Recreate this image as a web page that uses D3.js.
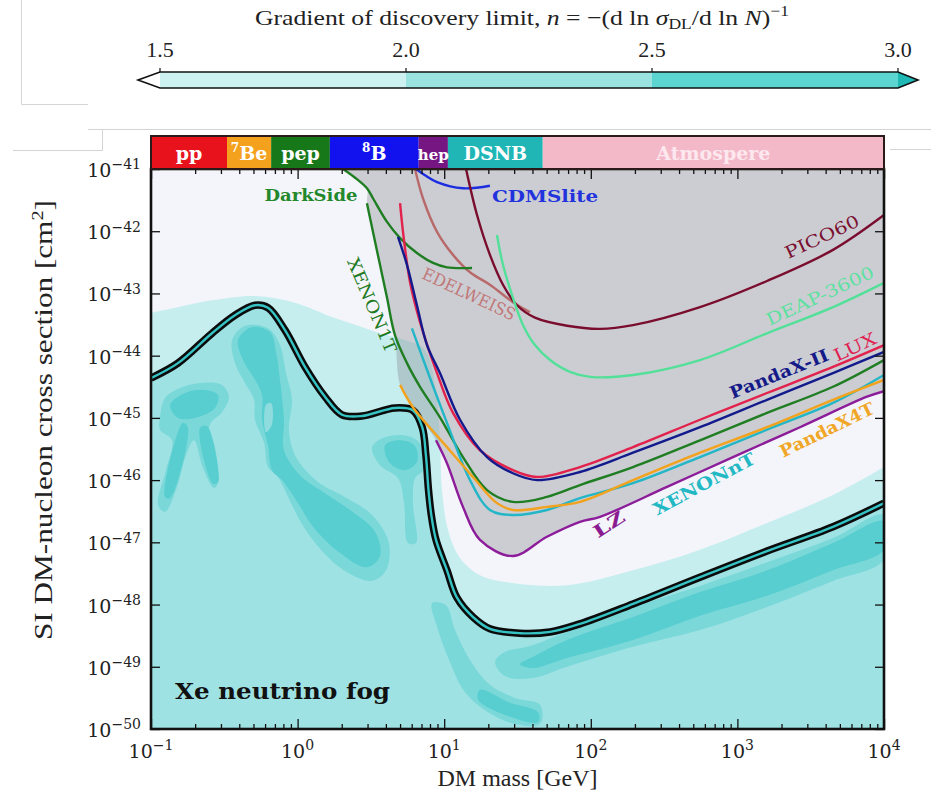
<!DOCTYPE html>
<html>
<head>
<meta charset="utf-8">
<script src="https://cdn.jsdelivr.net/npm/d3@7"></script>
<style>
  body { margin: 0; background: #fff; }
  svg { display: block; }
</style>
</head>
<body>
<svg id="chart"></svg>
<script>
// every curve point is [log10(mass / GeV), log10(sigma / cm^2)]

// n = 2 contour (the thick "floor" line)
const floorLine = [[-1.000,-44.36],[-0.816,-44.12],[-0.584,-43.64],[-0.427,-43.35],[-0.291,-43.19],[-0.202,-43.23],
  [-0.086,-43.59],[0.050,-44.18],[0.187,-44.66],[0.303,-44.95],[0.439,-44.97],[0.664,-44.84],[0.787,-44.88],
  [0.850,-45.15],[0.875,-45.60],[0.893,-46.16],[0.912,-46.56],[0.944,-46.96],[1.019,-47.45],[1.087,-47.89],
  [1.196,-48.20],[1.312,-48.39],[1.517,-48.46],[1.722,-48.44],[1.926,-48.31],[2.288,-47.99],[2.745,-47.56],
  [3.202,-47.14],[3.652,-46.75],[4.000,-46.37]];

// upper edge of the n > 1.5 region
const fogEdge = [[-1.000,-43.31],[-0.816,-43.22],[-0.584,-43.11],[-0.291,-43.04],[-0.018,-43.15],[0.235,-43.38],
  [0.439,-43.54],[0.562,-43.64],[0.733,-43.75],[0.869,-43.91],[0.951,-44.71],[0.971,-45.36],[0.985,-46.16],
  [1.026,-46.80],[1.108,-47.25],[1.244,-47.53],[1.449,-47.65],[1.838,-47.69],[2.288,-47.45],[2.745,-47.12],
  [3.202,-46.69],[3.652,-46.24],[4.000,-45.79]];

// n > 2.5 patches
const darkA = [[-0.939,-44.99],[-0.904,-44.68],[-0.802,-44.52],[-0.666,-44.44],[-0.516,-44.47],[-0.468,-44.66],
  [-0.516,-44.91],[-0.598,-45.11],[-0.584,-45.52],[-0.536,-46.00],[-0.570,-46.13],[-0.645,-45.81],[-0.707,-45.36],
  [-0.761,-45.60],[-0.829,-46.16],[-0.904,-46.51],[-0.952,-46.40],[-0.898,-45.84],[-0.857,-45.36],[-0.939,-45.19]];
const darkB = [[-0.447,-43.75],[-0.359,-43.52],[-0.202,-43.56],[-0.120,-43.83],[-0.079,-44.28],[-0.038,-44.71],
  [-0.059,-45.19],[-0.011,-45.63],[0.139,-46.03],[0.323,-46.27],[0.508,-46.56],[0.623,-47.01],[0.603,-47.45],
  [0.508,-47.62],[0.323,-47.46],[0.166,-47.14],[0.030,-46.71],[-0.065,-46.27],[-0.134,-45.95],[-0.202,-45.79],
  [-0.229,-45.40],[-0.291,-45.03],[-0.297,-44.71],[-0.359,-44.44],[-0.427,-44.12]];
const darkC = [[0.508,-45.47],[0.596,-45.31],[0.753,-45.29],[0.849,-45.45],[0.855,-45.84],[0.801,-45.97],
  [0.787,-46.37],[0.808,-47.01],[0.753,-47.01],[0.726,-46.37],[0.685,-45.97],[0.562,-45.76]];
const darkTongue = [[0.917,-47.98],[1.012,-48.01],[1.074,-48.41],[1.176,-48.89],[1.312,-49.29],[1.483,-49.50],
  [1.654,-49.61],[1.654,-49.92],[1.483,-49.92],[1.299,-49.73],[1.142,-49.41],[1.033,-48.89],[0.958,-48.41]];
const darkBand = [[4.000,-46.56],[3.652,-46.93],[3.202,-47.32],[2.745,-47.70],[2.288,-48.04],[1.838,-48.44],
  [1.565,-48.68],[1.415,-48.76],[1.347,-48.92],[1.415,-49.15],[1.606,-49.18],[1.838,-49.00],[2.288,-48.68],
  [2.745,-48.41],[3.202,-48.04],[3.652,-47.62],[4.000,-47.28]];

// n > 3 cores
const coreA = [[-0.870,-44.79],[-0.768,-44.60],[-0.632,-44.55],[-0.543,-44.63],[-0.563,-44.84],[-0.700,-45.00],[-0.816,-45.00]];
const coreStem1 = [[-0.666,-45.16],[-0.618,-45.13],[-0.543,-46.03],[-0.577,-46.06]];
const coreStem2 = [[-0.782,-45.08],[-0.748,-45.16],[-0.870,-46.29],[-0.904,-46.27]];
const coreB = [[-0.407,-43.75],[-0.311,-43.54],[-0.188,-43.62],[-0.147,-43.94],[-0.120,-44.39],[-0.093,-45.03],
  [-0.093,-45.52],[0.016,-45.92],[0.153,-46.16],[0.357,-46.48],[0.528,-46.83],[0.562,-47.22],[0.473,-47.40],
  [0.289,-47.17],[0.112,-46.77],[-0.011,-46.32],[-0.106,-46.00],[-0.175,-45.84],[-0.202,-45.44],[-0.243,-45.03],
  [-0.243,-44.63],[-0.297,-44.36],[-0.366,-44.10]];
const coreC = [[0.596,-45.44],[0.699,-45.36],[0.801,-45.45],[0.814,-45.71],[0.733,-45.84],[0.630,-45.73]];
const coreTongue = [[1.244,-49.37],[1.449,-49.58],[1.640,-49.73],[1.640,-49.89],[1.435,-49.79],[1.231,-49.53]];
const coreBand = [[4.000,-46.66],[3.652,-47.01],[3.202,-47.45],[2.745,-47.80],[2.288,-48.20],[1.838,-48.57],
  [1.606,-48.84],[1.517,-48.96],[1.606,-49.02],[1.838,-48.86],[2.288,-48.57],[2.745,-48.18],[3.202,-47.86],
  [3.652,-47.45],[4.000,-47.12]];
const eyeB = [[-0.216,-44.79],[-0.181,-44.76],[-0.175,-45.11],[-0.216,-45.23]];

// experimental exclusion limits
const darkSide = [[0.310,-41.00],[0.392,-41.14],[0.473,-41.31],[0.514,-41.47],[0.610,-41.85],[0.699,-42.11],
  [0.814,-42.35],[0.924,-42.51],[1.019,-42.58],[1.190,-42.59]];
const xenon1T = [[0.473,-41.55],[0.514,-42.01],[0.562,-42.54],[0.610,-43.07],[0.664,-43.67],[0.746,-44.12],
  [0.835,-44.50],[0.971,-44.99],[1.128,-45.63],[1.292,-46.16],[1.469,-46.35],[1.701,-46.27],[1.926,-46.08],
  [2.288,-45.79],[2.745,-45.36],[3.202,-44.92],[3.652,-44.50],[4.000,-44.07]];
const lux = [[0.699,-41.55],[0.719,-42.01],[0.767,-42.82],[0.835,-43.46],[0.951,-44.28],[1.060,-44.92],
  [1.244,-45.52],[1.469,-45.84],[1.633,-45.95],[1.926,-45.79],[2.288,-45.47],[2.745,-45.03],[3.202,-44.60],
  [3.652,-44.18],[4.000,-43.83]];
const pandaX2 = [[0.685,-42.09],[0.746,-42.54],[0.814,-43.19],[0.883,-43.83],[0.971,-44.28],[1.108,-45.03],
  [1.292,-45.63],[1.469,-45.89],[1.633,-46.00],[1.926,-45.87],[2.288,-45.56],[2.745,-45.15],[3.202,-44.71],
  [3.652,-44.28],[4.000,-43.94]];
const xenonNT = [[0.780,-43.56],[0.883,-44.23],[1.019,-45.08],[1.176,-46.00],[1.312,-46.48],[1.469,-46.56],
  [1.701,-46.48],[1.926,-46.29],[2.288,-46.05],[2.745,-45.63],[3.202,-45.19],[3.652,-44.76],[4.000,-44.31]];
const pandaX4T = [[0.699,-44.47],[0.787,-44.83],[1.019,-45.47],[1.196,-45.95],[1.360,-46.37],[1.469,-46.48],
  [1.701,-46.43],[1.926,-46.35],[2.288,-46.00],[2.745,-45.56],[3.202,-45.15],[3.652,-44.71],[4.000,-44.39]];
const lz = [[0.944,-45.36],[1.019,-45.73],[1.128,-46.43],[1.244,-46.96],[1.469,-47.22],[1.701,-46.91],
  [1.926,-46.67],[2.063,-46.59],[2.520,-46.11],[2.970,-45.63],[3.427,-45.15],[3.884,-44.66],[4.000,-44.57]];
const pico60 = [[1.149,-41.00],[1.224,-41.74],[1.312,-42.38],[1.401,-42.86],[1.497,-43.19],[1.619,-43.39],
  [1.838,-43.52],[2.063,-43.57],[2.288,-43.51],[2.745,-43.22],[3.202,-42.80],[3.652,-42.30],[4.000,-41.74]];
const deap3600 = [[1.360,-42.06],[1.401,-42.54],[1.469,-43.07],[1.538,-43.51],[1.619,-43.83],[1.722,-44.07],
  [1.858,-44.26],[1.995,-44.34],[2.288,-44.31],[2.745,-44.07],[3.202,-43.64],[3.652,-43.22],[4.000,-42.83]];
const edelweiss = [[0.801,-41.00],[0.855,-41.47],[0.951,-42.01],[1.060,-42.38],[1.176,-42.66],[1.312,-42.86],
  [1.469,-43.14],[1.585,-43.30]];
const cdmsLite = [[0.808,-41.00],[0.869,-41.10],[0.951,-41.21],[1.128,-41.31],[1.312,-41.27]];

// neutrino source strip above the plot (mass edges in GeV)
const bandEdges = [0.1, 0.33, 0.66, 1.66, 6.7, 10.6, 47, 1e4];
const bandSup   = ["", "7", "", "8", "", "", ""];
const bandText  = ["pp", "Be", "pep", "B", "hep", "DSNB", "Atmospere"];

// colour bar
const cbEdges = [1.5, 2.0, 2.5, 3.0];
const cbTicks = [1.5, 2.0, 2.5, 3.0];

const xExps = [-1, 0, 1, 2, 3, 4];
const yExps = [-41, -42, -43, -44, -45, -46, -47, -48, -49, -50];

// ---------------------------------------------------------------------
const W = 931, H = 795;
const serif = "'DejaVu Serif', serif";
const txt = "'Liberation Serif', 'DejaVu Serif', serif";

const svg = d3.select("#chart").attr("width", W).attr("height", H).style("background", "#fff");

const x = d3.scaleLog().domain([1e-1, 1e4]).range([151, 884]);
const y = d3.scaleLog().domain([1e-50, 1e-41]).range([729, 169]);
const px = d => x(10 ** d[0]);
const py = d => y(10 ** d[1]);
const [x0, x1] = x.range();
const [y0, y1] = y.range();

const smooth = d3.line().x(px).y(py).curve(d3.curveCatmullRom.alpha(0.5));
const closed = d3.line().x(px).y(py).curve(d3.curveCatmullRomClosed.alpha(0.5));
const toBottom = pts => smooth(pts) + `L${x1},${y0}L${x0},${y0}Z`;

// faint panel edges of the original screenshot
const edge = svg.append("g").attr("stroke", "#d4d4d4").attr("fill", "none");
edge.append("path").attr("d", "M21.5,0V104.5H88");
edge.append("path").attr("d", "M88,129.5H931");
edge.append("path").attr("d", "M13,150.5H102.5V129");
edge.append("path").attr("d", "M890,149.5H931");

// ---- colour bar ----
const cb = d3.scaleLinear().domain([1.5, 3]).range([160, 898]);
const cbTop = 72, cbBot = 88, cbMid = (cbTop + cbBot) / 2;
const cbColors = ["#cdf1f0", "#9be3e1", "#5cd4d0"];
svg.append("text").attr("x", 522).attr("y", 25).attr("text-anchor", "middle")
  .attr("textLength", 534).attr("lengthAdjust", "spacingAndGlyphs")
  .style("font-family", txt).style("font-size", "22px").attr("fill", "#222").call(t => {
    t.append("tspan").text("Gradient of discovery limit, ");
    t.append("tspan").style("font-style", "italic").text("n");
    t.append("tspan").text(" = \u2212(d ln ");
    t.append("tspan").style("font-style", "italic").text("\u03c3");
    t.append("tspan").attr("dy", 4).style("font-size", "15px").text("DL");
    t.append("tspan").attr("dy", -4).text("/d ln ");
    t.append("tspan").style("font-style", "italic").text("N");
    t.append("tspan").text(")");
    t.append("tspan").attr("dy", -9).style("font-size", "15px").text("\u22121");
  });
svg.append("path")
  .attr("d", `M${cb(1.5)},${cbTop}L${cb(1.5) - 22},${cbMid}L${cb(1.5)},${cbBot}Z`).attr("fill", "#fff");
svg.append("path")
  .attr("d", `M${cb(3)},${cbTop}L${cb(3) + 20},${cbMid}L${cb(3)},${cbBot}Z`).attr("fill", "#1fb8b4");
svg.selectAll(".cbin").data(d3.pairs(cbEdges)).join("rect").attr("class", "cbin")
  .attr("x", d => cb(d[0])).attr("width", d => cb(d[1]) - cb(d[0]))
  .attr("y", cbTop).attr("height", cbBot - cbTop).attr("fill", (d, i) => cbColors[i]);
svg.append("path")
  .attr("d", `M${cb(1.5) - 22},${cbMid}L${cb(1.5)},${cbTop}H${cb(3)}L${cb(3) + 20},${cbMid}L${cb(3)},${cbBot}H${cb(1.5)}Z`)
  .attr("fill", "none").attr("stroke", "#111").attr("stroke-width", 1.6);
svg.selectAll(".cbtick").data(cbTicks).join("line").attr("class", "cbtick")
  .attr("x1", d => cb(d)).attr("x2", d => cb(d)).attr("y1", cbTop - 4).attr("y2", cbTop)
  .attr("stroke", "#111").attr("stroke-width", 1.2);
svg.selectAll(".cblab").data(cbTicks).join("text").attr("class", "cblab")
  .attr("x", d => cb(d)).attr("y", 57).attr("text-anchor", "middle")
  .style("font-family", txt).style("font-size", "22px").attr("fill", "#222").text(d => d.toFixed(1));

// ---- plot area ----
svg.append("defs").append("clipPath").attr("id", "plotclip")
  .append("rect").attr("x", x0).attr("y", y1).attr("width", x1 - x0).attr("height", y0 - y1);
const plot = svg.append("g").attr("clip-path", "url(#plotclip)");

plot.append("rect").attr("x", x0).attr("y", y1).attr("width", x1 - x0).attr("height", y0 - y1).attr("fill", "#f4f5fa");
plot.append("path").attr("d", toBottom(fogEdge)).attr("fill", "#c6eeef");
plot.append("path").attr("d", toBottom(floorLine)).attr("fill", "#9fe2e4");
[darkA, darkB, darkC, darkTongue, darkBand].forEach(p =>
  plot.append("path").attr("d", closed(p)).attr("fill", "#7bd8d9"));
[coreA, coreStem1, coreStem2, coreB, coreC, coreTongue, coreBand].forEach(p =>
  plot.append("path").attr("d", closed(p)).attr("fill", "#58ced0"));
plot.append("path").attr("d", closed(eyeB)).attr("fill", "#8fdcde");

// excluded region (union above the limits)
const grayEdge = [...darkSide.slice(0, 3), ...xenon1T.slice(0, 5), ...pandaX4T.slice(0, 2), ...lz];
plot.append("path")
  .attr("d", smooth(grayEdge) + `L${x1},${y1}L${px(darkSide[0])},${y1}Z`)
  .attr("fill", "#8b8b94").attr("fill-opacity", 0.38);

// neutrino floor line
plot.append("path").attr("d", smooth(floorLine)).attr("fill", "none")
  .attr("stroke", "#0b0b0b").attr("stroke-width", 7.5).attr("stroke-linejoin", "round");
plot.append("path").attr("d", smooth(floorLine)).attr("fill", "none")
  .attr("stroke", "#35c3c4").attr("stroke-width", 2.4);

const limits = [
  { pts: edelweiss, color: "#b86a6a" },
  { pts: cdmsLite, color: "#1c2de0" },
  { pts: pico60, color: "#7a0d2e" },
  { pts: deap3600, color: "#52e098" },
  { pts: darkSide, color: "#1f7d22" },
  { pts: lux, color: "#e2214c" },
  { pts: pandaX2, color: "#121a8c" },
  { pts: xenon1T, color: "#1f7d22" },
  { pts: xenonNT, color: "#22b6c6" },
  { pts: pandaX4T, color: "#f2a21c" },
  { pts: lz, color: "#8c1c9a" }
];
plot.selectAll(".limit").data(limits).join("path").attr("class", "limit")
  .attr("d", d => smooth(d.pts)).attr("fill", "none")
  .attr("stroke", d => d.color).attr("stroke-width", 2.4);

// curve labels: [text, log10 m, log10 sigma, angle, colour, length, weight]
const notes = [
  ["DarkSide", 0.091, -41.42, 0, "#23882b", 93, "bold"],
  ["CDMSlite", 1.688, -41.43, 0, "#2233dd", 106, "bold"],
  ["PICO60", 3.577, -42.09, -25, "#7a1030", 80, "normal"],
  ["DEAP-3600", 3.563, -43.04, -25, "#5ee0a0", 117, "normal"],
  ["LUX", 3.802, -43.86, -25, "#e02050", 45, "normal"],
  ["PandaX-II", 3.284, -44.29, -22, "#141a88", 105, "bold"],
  ["PandaX4T", 3.611, -45.19, -26, "#f0a626", 103, "bold"],
  ["XENONnT", 2.772, -46.06, -28, "#22b8c4", 113, "bold"],
  ["LZ", 2.124, -46.71, -33, "#8a1a90", 34, "bold"],
  ["EDELWEISS", 1.169, -43.01, 25, "#c07878", 101, "normal"],
  ["XENON1T", 0.508, -43.19, 67, "#1e7a1e", 101, "normal"]
];
svg.selectAll(".note").data(notes).join("text").attr("class", "note")
  .attr("transform", d => `translate(${px([d[1], d[2]])},${py([d[1], d[2]])}) rotate(${d[3]})`)
  .attr("text-anchor", "middle").attr("dy", "0.35em")
  .attr("textLength", d => d[5]).attr("lengthAdjust", "spacingAndGlyphs")
  .style("font-family", serif).style("font-size", "17px").style("font-weight", d => d[6])
  .attr("fill", d => d[4]).text(d => d[0]);

svg.append("text").attr("x", 175).attr("y", 699)
  .attr("textLength", 215).attr("lengthAdjust", "spacingAndGlyphs")
  .style("font-family", serif).style("font-size", "23px").style("font-weight", "bold")
  .attr("fill", "#111").text("Xe neutrino fog");

// ---- axes ----
const xMajor = xExps.map(e => 10 ** e);
const xMinor = d3.range(-1, 4).flatMap(e => d3.range(2, 10).map(k => k * 10 ** e));
const yMajor = yExps.map(e => 10 ** e);
const tickStyle = g => g.call(s => s.select(".domain").remove())
  .call(s => s.selectAll("line").attr("stroke", "#111").attr("stroke-width", 1.3));

svg.append("g").attr("transform", `translate(0,${y0})`)
  .call(d3.axisBottom(x).tickValues(xMajor).tickSize(-10).tickFormat("")).call(tickStyle);
svg.append("g").attr("transform", `translate(0,${y0})`)
  .call(d3.axisBottom(x).tickValues(xMinor).tickSize(-5).tickFormat("")).call(tickStyle);
svg.append("g").attr("transform", `translate(0,${y1})`)
  .call(d3.axisTop(x).tickValues(xMajor).tickSize(-10).tickFormat("")).call(tickStyle);
svg.append("g").attr("transform", `translate(0,${y1})`)
  .call(d3.axisTop(x).tickValues(xMinor).tickSize(-5).tickFormat("")).call(tickStyle);
svg.append("g").attr("transform", `translate(${x0},0)`)
  .call(d3.axisLeft(y).tickValues(yMajor).tickSize(-9).tickFormat("")).call(tickStyle);
svg.append("g").attr("transform", `translate(${x1},0)`)
  .call(d3.axisRight(y).tickValues(yMajor).tickSize(-9).tickFormat("")).call(tickStyle);

svg.append("rect").attr("x", x0).attr("y", y1).attr("width", x1 - x0).attr("height", y0 - y1)
  .attr("fill", "none").attr("stroke", "#111").attr("stroke-width", 2.6);

const powLabel = (t, e) => {
  t.append("tspan").text("10");
  t.append("tspan").attr("dy", "-0.55em").style("font-size", "14px").text(e < 0 ? "\u2212" + (-e) : String(e));
};
svg.selectAll(".xlab").data(xExps).join("text").attr("class", "xlab")
  .attr("x", e => x(10 ** e)).attr("y", 758).attr("text-anchor", "middle")
  .style("font-family", serif).style("font-size", "19px").attr("fill", "#222")
  .each(function (e) { powLabel(d3.select(this), e); });
svg.selectAll(".ylab").data(yExps).join("text").attr("class", "ylab")
  .attr("x", 141).attr("y", e => y(10 ** e) + 8).attr("text-anchor", "end")
  .style("font-family", serif).style("font-size", "19px").attr("fill", "#222")
  .each(function (e) { powLabel(d3.select(this), e); });

svg.append("text").attr("x", (x0 + x1) / 2).attr("y", 786).attr("text-anchor", "middle")
  .style("font-family", txt).style("font-size", "24px").attr("fill", "#222").text("DM mass [GeV]");
svg.append("text").attr("transform", "translate(52,420) rotate(-90)").attr("text-anchor", "middle")
  .attr("textLength", 440).attr("lengthAdjust", "spacingAndGlyphs")
  .style("font-family", txt).style("font-size", "26px").attr("fill", "#222")
  .call(t => {
    t.append("tspan").text("SI DM-nucleon cross section [cm");
    t.append("tspan").attr("dy", -9).style("font-size", "17px").text("2");
    t.append("tspan").attr("dy", 9).text("]");
  });

// ---- neutrino source strip ----
const bandColors = ["#e8121c", "#f4a11e", "#17781a", "#1212ee", "#761682", "#20b6b6", "#f4b9c9"];
const bandTop = 136;
svg.selectAll(".band").data(d3.pairs(bandEdges)).join("rect").attr("class", "band")
  .attr("x", d => x(d[0])).attr("width", d => x(d[1]) - x(d[0]))
  .attr("y", bandTop).attr("height", y1 - bandTop).attr("fill", (d, i) => bandColors[i]);
svg.append("rect").attr("x", x0).attr("y", bandTop).attr("width", x1 - x0).attr("height", y1 - bandTop)
  .attr("fill", "none").attr("stroke", "#2a1a1a").attr("stroke-width", 2);
svg.selectAll(".bandlab").data(d3.pairs(bandEdges)).join("text").attr("class", "bandlab")
  .attr("x", d => (x(d[0]) + x(d[1])) / 2).attr("y", (bandTop + y1) / 2 + 7).attr("text-anchor", "middle")
  .style("font-family", serif).style("font-weight", "bold")
  .style("font-size", (d, i) => bandText[i] === "hep" ? "15px" : "19px")
  .attr("fill", (d, i) => i === 6 ? "#fce8ee" : "#fff")
  .each(function (d, i) {
    const t = d3.select(this);
    if (bandSup[i]) t.append("tspan").attr("dy", -8).style("font-size", "12px").text(bandSup[i]);
    t.append("tspan").attr("dy", bandSup[i] ? 8 : 0).text(bandText[i]);
  });
</script>
</body>
</html>
